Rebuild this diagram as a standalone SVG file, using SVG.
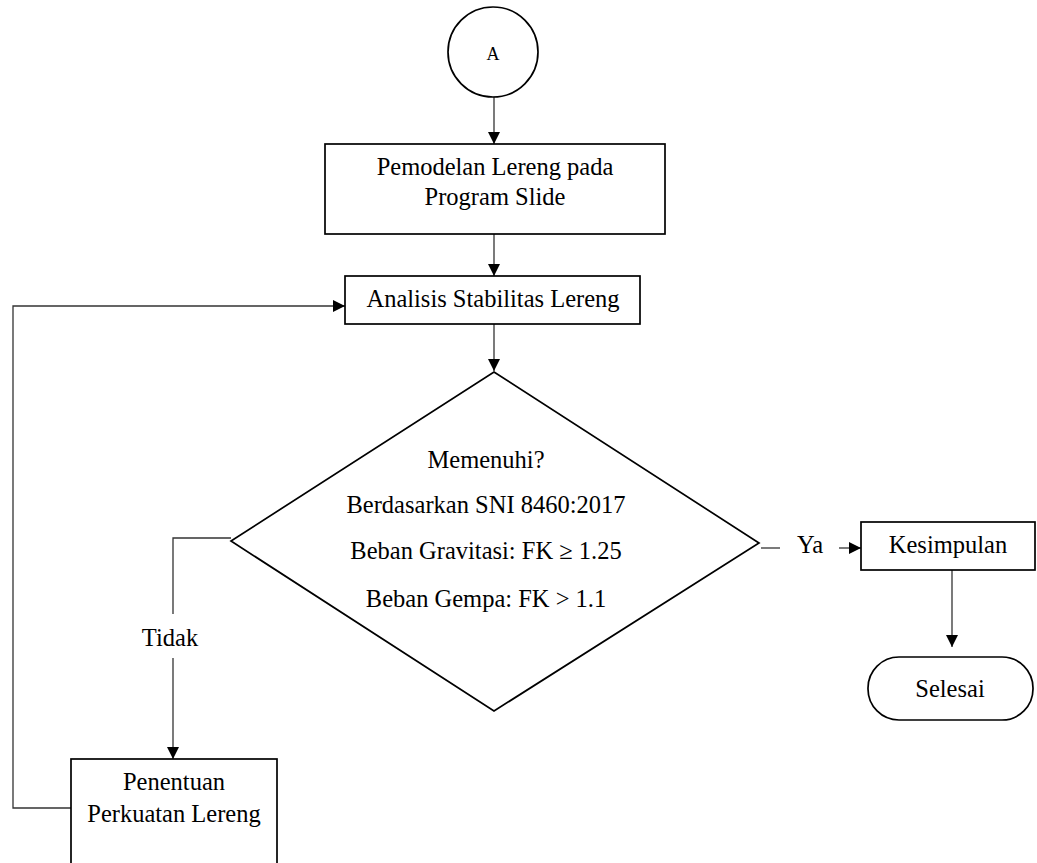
<svg xmlns="http://www.w3.org/2000/svg" width="1037" height="863" viewBox="0 0 1037 863">
<style>
.shape{fill:#fff;stroke:#000;stroke-width:1.7}
.conn{fill:none;stroke:#333;stroke-width:1.3}
text{font-family:"Liberation Serif","Times New Roman",serif;font-size:24.5px;fill:#000;text-anchor:middle}
</style>
<defs>
<marker id="arr" markerUnits="userSpaceOnUse" markerWidth="12" markerHeight="12" viewBox="0 0 12 12" refX="12" refY="6" orient="auto">
<path d="M0,0 L12,6 L0,12 z" fill="#000"/>
</marker>
</defs>
<rect width="1037" height="863" fill="#fff"/>
<g id="connectors">
<line class="conn" x1="494" y1="97" x2="494" y2="144" marker-end="url(#arr)"/>
<line class="conn" x1="494" y1="234" x2="494" y2="276" marker-end="url(#arr)"/>
<line class="conn" x1="494" y1="324" x2="494" y2="371" marker-end="url(#arr)"/>
<polyline class="conn" points="231,538 173,538 173,614"/>
<line class="conn" x1="173" y1="658" x2="173" y2="759" marker-end="url(#arr)"/>
<polyline class="conn" points="71,808 13,808 13,306 345,306" marker-end="url(#arr)"/>
<line class="conn" x1="761" y1="548" x2="780" y2="548"/>
<line class="conn" x1="839" y1="548" x2="861" y2="548" marker-end="url(#arr)"/>
<line class="conn" x1="952" y1="570" x2="952" y2="647" marker-end="url(#arr)"/>
<text x="170" y="646">Tidak</text>
<text x="810" y="553">Ya</text>
</g>
<g id="node-A">
<circle class="shape" cx="493" cy="52" r="45"/>
<text x="493" y="60" style="font-size:18px">A</text>
</g>
<g id="node-pemodelan">
<rect class="shape" x="325" y="144" width="340" height="90"/>
<text x="495" y="175">Pemodelan Lereng pada</text>
<text x="495" y="205">Program Slide</text>
</g>
<g id="node-analisis">
<rect class="shape" x="345" y="276" width="295" height="48"/>
<text x="493" y="307">Analisis Stabilitas Lereng</text>
</g>
<g id="node-decision">
<polygon class="shape" points="494,372 759,543 494,711 231,541"/>
<text x="486" y="468">Memenuhi?</text>
<text x="486" y="513">Berdasarkan SNI 8460:2017</text>
<text x="486" y="559">Beban Gravitasi: FK ≥ 1.25</text>
<text x="486" y="607">Beban Gempa: FK &gt; 1.1</text>
</g>
<g id="node-kesimpulan">
<rect class="shape" x="861" y="522" width="174" height="48"/>
<text x="948" y="553">Kesimpulan</text>
</g>
<g id="node-selesai">
<rect class="shape" x="868" y="657" width="165" height="63" rx="31" ry="31"/>
<text x="950" y="697">Selesai</text>
</g>
<g id="node-penentuan">
<rect class="shape" x="71" y="759" width="206" height="115"/>
<text x="174" y="790">Penentuan</text>
<text x="174" y="822">Perkuatan Lereng</text>
</g>
</svg>
